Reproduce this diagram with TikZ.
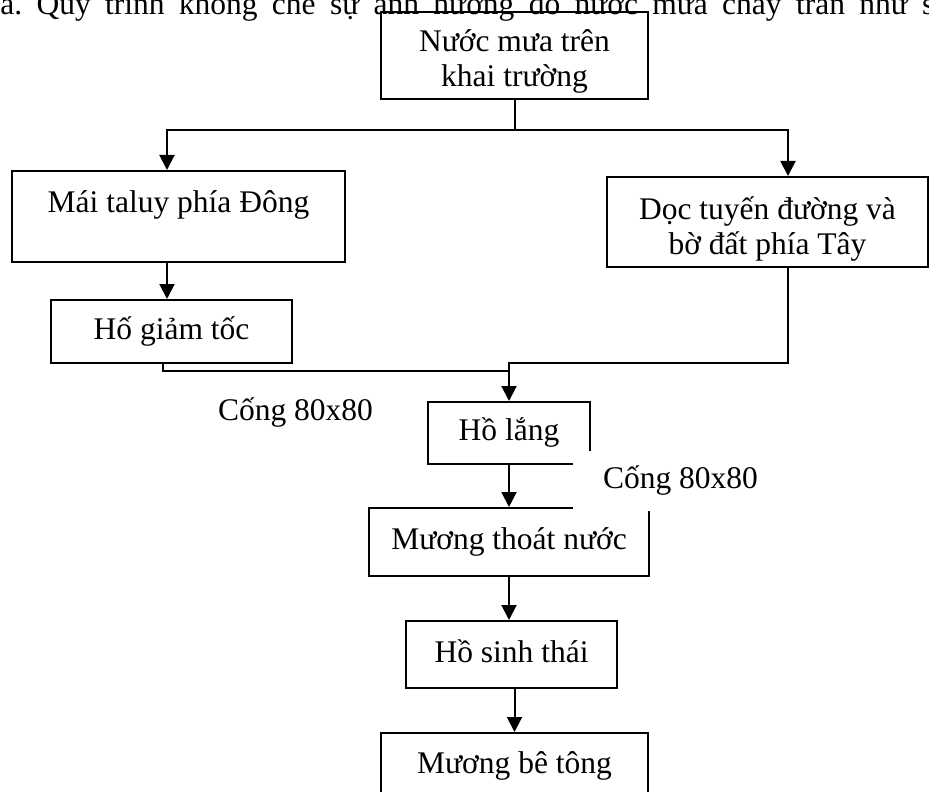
\documentclass[tikz,border=0pt]{standalone}
\usepackage{fontspec}
\setmainfont{Liberation Serif}
\usetikzlibrary{arrows.meta}

\begin{document}
\begin{tikzpicture}[x=0.5pt, y=-0.5pt, font=\fontsize{15.75pt}{17.5pt}\selectfont,
    box/.style={draw, line width=1pt, inner sep=0pt, align=center},
    one/.style={text height=11pt, text depth=3.5pt},
    flow/.style={line width=1pt, -{Triangle[width=7.5pt,length=7.5pt]}},
    link/.style={line width=1pt}]
    \useasboundingbox (0,0) rectangle (929,791);

    \node[anchor=base west, inner sep=0pt] (title) at (0,15) {\frenchspacing\makebox[467pt][s]{a. Quy trình khống chế sự ảnh hưởng do nước mưa chảy tràn như s}};

    \node[box, text height=34pt, text depth=2.5pt, minimum width=133.5pt, minimum height=43.5pt] (nuoc) at (514.5,55.5) {Nước mưa trên\\khai trường};
    \node[box, one, text depth=14.5pt, minimum width=166.5pt, minimum height=45.5pt] (mai) at (178.5,216.5) {Mái taluy phía Đông};
    \node[box, text height=35pt, text depth=3pt, minimum width=160.5pt, minimum height=45pt] (doc) at (767.5,222) {Dọc tuyến đường và\\bờ đất phía Tây};
    \node[box, one, minimum width=120.5pt, minimum height=31.5pt] (hogiam) at (171.5,331.5) {Hố giảm tốc};
    \node[box, one, minimum width=81pt, minimum height=31pt] (holang) at (509,433) {Hồ lắng};
    \node[box, one, minimum width=140pt, minimum height=34pt] (muong) at (509,542) {Mương thoát nước};
    \node[box, one, minimum width=105.5pt, minimum height=33.5pt] (hosinh) at (511.5,654.5) {Hồ sinh thái};
    \node[box, one, minimum width=133.5pt, minimum height=32.5pt] (betong) at (514.5,765.5) {Mương bê tông};

    \coordinate (split) at (514.5,130);
    \draw[link] (nuoc.south) -- (split);
    \draw[flow] (split) -| ([xshift=-5.75pt]mai.north);
    \draw[flow] (split) -| ([xshift=10.25pt]doc.north);
    \draw[flow] ([xshift=-5.75pt]mai.south) -- ([xshift=-5.75pt]mai.south |- hogiam.north);
    \draw[link] ([xshift=-4.25pt]hogiam.south) |- ([yshift=15pt]holang.north);
    \draw[flow] ([xshift=10.25pt]doc.south) -- ++(0,95) -| (holang.north);
    \draw[flow] (holang.south) -- (muong.north);
    \draw[flow] (muong.south) -- (muong.south |- hosinh.north);
    \draw[flow] (betong.north |- hosinh.south) -- (betong.north);

    \node[anchor=base, inner sep=0pt] (cong1) at (295.5,420) {Cống 80x80};
    \node[one, fill=white, inner xsep=15pt, inner ysep=0pt, minimum height=30pt] (cong2) at (680.5,481) {Cống 80x80};
\end{tikzpicture}
\end{document}
